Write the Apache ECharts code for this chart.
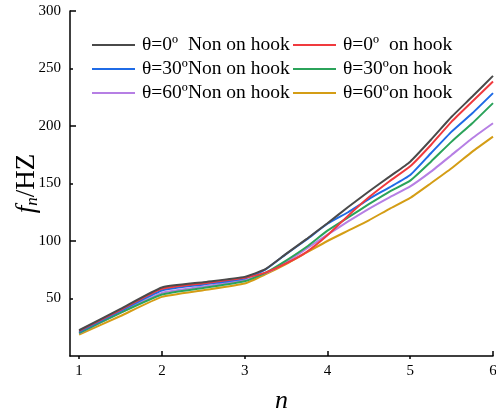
<!DOCTYPE html>
<html><head><meta charset="utf-8">
<script src="https://cdn.jsdelivr.net/npm/echarts@6/dist/echarts.min.js"></script>
<style>html,body{margin:0;padding:0;background:#fff}#c{width:496px;height:416px}</style>
</head><body><div id="c"></div>
<script>
const nValues = [1, 1.5, 2, 2.5, 3, 3.25, 3.5, 3.75, 4, 4.25, 4.5, 4.75, 5, 5.25, 5.5, 5.75, 6];
const seriesNames = ['θ=0º  Non on hook', 'θ=0º  on hook', 'θ=30ºNon on hook', 'θ=30ºon hook', 'θ=60ºNon on hook', 'θ=60ºon hook'];
const t0Non = [22.4, 41, 59.6, 64.2, 68.8, 75.5, 88.8, 101.8, 115.5, 129.5, 143, 156, 169, 188, 208, 225.6, 243.6];
const t0On = [21.8, 40.2, 58.4, 63.2, 68, 72.5, 80.5, 90.6, 105, 122, 138, 152, 165, 183.5, 203.8, 221.3, 238.7];
const t30Non = [21, 39.2, 57, 62.2, 67.4, 75.2, 88.6, 101.4, 115, 125, 136.5, 146.7, 157.4, 176.3, 195.1, 211.1, 228.6];
const t30On = [20, 37.5, 53.5, 59.2, 65, 72.3, 83, 95, 109, 120.5, 132, 143, 152.5, 169, 186.4, 202.4, 219.9];
const t60Non = [19.6, 37.8, 54.9, 60.4, 66, 72, 81.5, 93.5, 105.5, 117, 128, 138, 147.5, 160.3, 174.8, 189.4, 202.4];
const t60On = [18.6, 34.8, 51.4, 57.2, 63, 71, 80, 90, 100, 109, 118, 128, 137.5, 150.2, 163.2, 177.7, 190.8];
const xTickLabels = [1, 2, 3, 4, 5, 6];
const yTickLabels = [50, 100, 150, 200, 250, 300];

const allValues = [t0Non, t0On, t30Non, t30On, t60Non, t60On];
const colors = ['#4a4a4a', '#f03a3e', '#1f6be6', '#2ba35a', '#b67fe4', '#d49d15'];
const FONT = 'Liberation Serif';

const chart = echarts.init(document.getElementById('c'), null, {renderer: 'canvas'});
const series = seriesNames.map((name, i) => ({
  name: name,
  type: 'line',
  xAxisIndex: 0, yAxisIndex: 0,
  data: nValues.map((n, k) => [n, allValues[i][k]]),
  symbol: 'none',
  smooth: 0.15,
  lineStyle: {width: 2, color: colors[i]},
  itemStyle: {color: colors[i]},
  z: 10 - i
}));
const legendCommon = {
  orient: 'vertical',
  icon: 'rect',
  itemWidth: 43,
  itemHeight: 2,
  itemGap: 4,
  padding: 0,
  selectedMode: false,
  textStyle: {fontFamily: FONT, fontSize: 19.5, color: '#000', lineHeight: 20, padding: [0, 0, 0, 2]}
};
chart.setOption({
  animation: false,
  color: colors,
  grid: {left: 70, right: 3, top: 11, bottom: 60, containLabel: false, outerBoundsMode: 'none'},
  legend: [
    Object.assign({}, legendCommon, {left: 92, top: 35, data: [seriesNames[0], seriesNames[2], seriesNames[4]]}),
    Object.assign({}, legendCommon, {left: 293, top: 35, data: [seriesNames[1], seriesNames[3], seriesNames[5]]})
  ],
  xAxis: [{
    type: 'value', min: 0.89, max: 6,
    name: 'n', nameLocation: 'middle', nameGap: 32, nameMoveOverlap: false,
    nameTextStyle: {fontFamily: FONT, fontSize: 26, fontStyle: 'italic', color: '#000'},
    axisLine: {show: true, onZero: false, lineStyle: {color: '#000', width: 1.5}},
    axisTick: {show: true, inside: true, length: 5, customValues: [2, 4, 6], lineStyle: {color: '#000', width: 1.5}},
    axisLabel: {customValues: xTickLabels, margin: 8, fontFamily: FONT, fontSize: 15, color: '#000'},
    splitLine: {show: false}
  }, {
    type: 'value', min: 0.89, max: 6,
    axisLine: {show: false},
    axisTick: {show: true, inside: true, length: 3, customValues: [1, 3, 5], lineStyle: {color: '#000', width: 1.5}},
    axisLabel: {show: false},
    splitLine: {show: false}
  }],
  yAxis: [{
    type: 'value', min: 0, max: 300, interval: 50,
    name: '{f|f}{s|n}{r|/HZ}', nameLocation: 'middle', nameGap: 29, nameMoveOverlap: false,
    nameTextStyle: {
      color: '#000',
      rich: {
        f: {fontFamily: FONT, fontSize: 27, fontStyle: 'italic', color: '#000', verticalAlign: 'middle', lineHeight: 28},
        s: {fontFamily: FONT, fontSize: 17, fontStyle: 'italic', color: '#000', verticalAlign: 'bottom', lineHeight: 14},
        r: {fontFamily: FONT, fontSize: 27, color: '#000', verticalAlign: 'middle', lineHeight: 28}
      }
    },
    axisLine: {show: true, onZero: false, lineStyle: {color: '#000', width: 1.5}},
    axisTick: {show: true, inside: true, length: 6, customValues: [100, 200, 300], lineStyle: {color: '#000', width: 1.5}},
    axisLabel: {customValues: yTickLabels, margin: 9, fontFamily: FONT, fontSize: 15, color: '#000'},
    splitLine: {show: false}
  }, {
    type: 'value', min: 0, max: 300, position: 'left',
    axisLine: {show: false},
    axisTick: {show: true, inside: true, length: 3, customValues: [50, 150, 250], lineStyle: {color: '#000', width: 1.5}},
    axisLabel: {show: false},
    splitLine: {show: false}
  }],
  series: series
});
</script>
</body></html>
